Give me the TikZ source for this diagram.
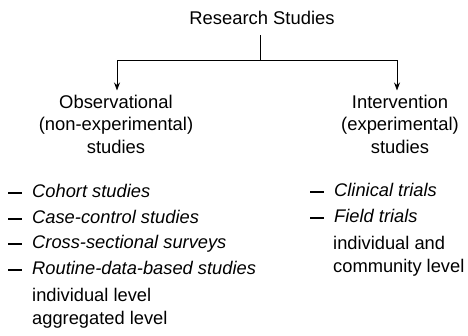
\documentclass[tikz,border=0pt]{standalone}
\usepackage{fontspec}
\setmainfont{Liberation Sans}
\usetikzlibrary{arrows.meta,positioning}
\tikzstyle{heading} = [align=center, anchor=base, inner sep=0pt, font=\fontsize{18.4}{22.5}\selectfont]
\tikzstyle{item} = [anchor=base west, inner sep=0pt, font=\fontsize{18.3}{22.5}\selectfont]
\tikzstyle{line} = [line width=0.8pt]
\tikzstyle{arrow} = [line width=0.8pt,-{Stealth[length=8pt,width=6pt]}]
\newcommand{\dashitem}[1]{\makebox[24pt][l]{\rule[3.4pt]{14pt}{1.4pt}}\textit{#1}}

\begin{document}
\begin{tikzpicture}[x=1pt,y=-1pt]
\useasboundingbox (0,0) rectangle (468,335);
\node (research) [heading] at (262,24) {Research Studies};
\node (obs) [heading] at (116,153) {Observational\\(non-experimental)\\studies};
\node (int) [heading] at (400,153) {Intervention\\(experimental)\\studies};
\coordinate (split) at (260,60);
\coordinate (obsend) at (117,60);
\coordinate (intend) at (397,60);

\draw [line, shorten <=11pt] (research.south -| split) -- (split);
\draw [line] (obsend) -- (intend);
\draw [arrow, shorten >=4pt] (obsend) -- (obs.north -| obsend);
\draw [arrow, shorten >=4pt] (intend) -- (int.north -| intend);

% observational list
\node (cohort) [item] at (8,197) {\dashitem{Cohort studies}};
\node (casectrl) [item] at (8,223) {\dashitem{Case-control studies}};
\node (crosssec) [item] at (8,248) {\dashitem{Cross-sectional surveys}};
\node (routine) [item] at (8,274) {\dashitem{Routine-data-based studies}};
\node (obslevel) [item, align=left] at (32,324) {individual level\\aggregated level};

% intervention list
\node (clinical) [item] at (310,196) {\dashitem{Clinical trials}};
\node (field) [item] at (310,222) {\dashitem{Field trials}};
\node (intlevel) [item, align=left] at (333,272) {individual and\\community level};
\end{tikzpicture}
\end{document}
